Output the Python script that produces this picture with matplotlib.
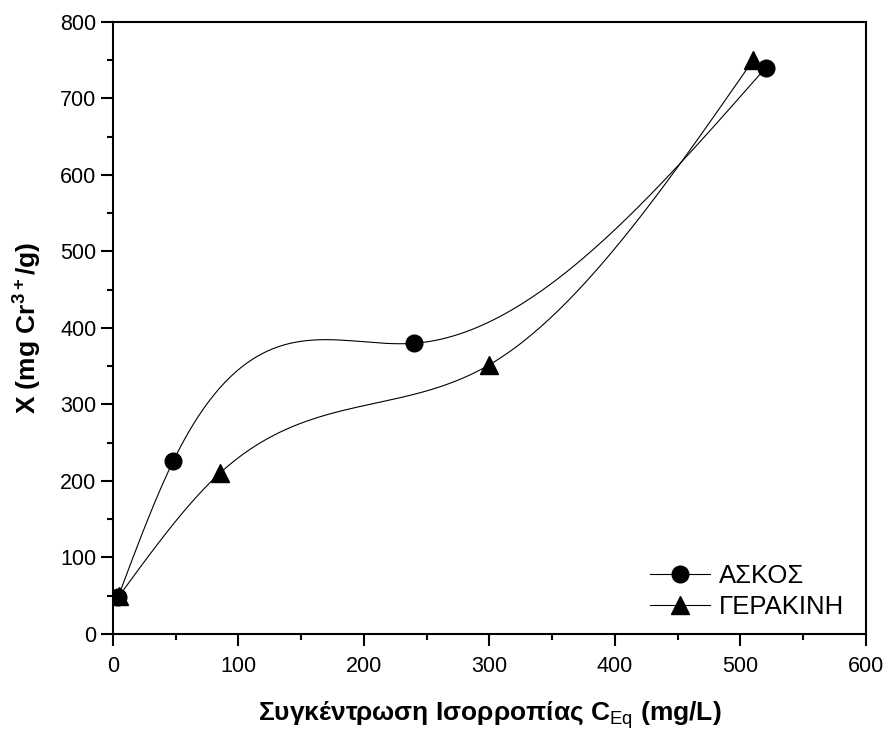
import numpy as np
from matplotlib import pyplot as plt
from matplotlib.ticker import MultipleLocator

askos_x = [4, 48, 240, 520]
askos_y = [48, 226, 380, 740]
gerakini_x = [5, 85, 300, 510]
gerakini_y = [50, 210, 352, 750]

x_ticks = [0, 100, 200, 300, 400, 500, 600]
y_ticks = [0, 100, 200, 300, 400, 500, 600, 700, 800]


def natural_spline(xs, ys, n=300):
    # plain natural cubic spline, like the "spline" line of the original program
    xs = np.asarray(xs, float)
    ys = np.asarray(ys, float)
    k = len(xs)
    h = np.diff(xs)
    a = np.zeros((k, k))
    b = np.zeros(k)
    a[0, 0] = 1
    a[-1, -1] = 1
    for i in range(1, k - 1):
        a[i, i - 1] = h[i - 1]
        a[i, i] = 2 * (h[i - 1] + h[i])
        a[i, i + 1] = h[i]
        b[i] = 6 * ((ys[i + 1] - ys[i]) / h[i] - (ys[i] - ys[i - 1]) / h[i - 1])
    m = np.linalg.solve(a, b)
    xx = np.linspace(xs[0], xs[-1], n)
    yy = np.zeros_like(xx)
    for j, x in enumerate(xx):
        i = min(np.searchsorted(xs, x, side="right") - 1, k - 2)
        t = x - xs[i]
        u = xs[i + 1] - x
        yy[j] = (m[i] * u ** 3 + m[i + 1] * t ** 3) / (6 * h[i]) \
            + (ys[i] / h[i] - m[i] * h[i] / 6) * u \
            + (ys[i + 1] / h[i] - m[i + 1] * h[i] / 6) * t
    return xx, yy


plt.rcParams['font.family'] = ['Liberation Sans', 'DejaVu Sans']
plt.rcParams['mathtext.fontset'] = 'custom'
plt.rcParams['mathtext.rm'] = 'Liberation Sans'
plt.rcParams['mathtext.bf'] = 'Liberation Sans:bold'

fig = plt.figure(figsize=(8.87, 7.32), dpi=100)
ax = fig.add_axes([0.1274, 0.1339, 0.8489, 0.8361])

sx, sy = natural_spline(askos_x, askos_y)
ax.plot(sx, sy, color='black', linewidth=0.8)
ax.plot(askos_x, askos_y, 'o', color='black', markersize=12, zorder=3)

gx, gy = natural_spline(gerakini_x, gerakini_y)
ax.plot(gx, gy, color='black', linewidth=0.8)
ax.plot(gerakini_x, gerakini_y, '^', color='black', markersize=13, zorder=4)

# legend handles: line with marker in the middle
h1, = ax.plot([], [], '-o', color='black', linewidth=0.8, markersize=12)
h2, = ax.plot([], [], '-^', color='black', linewidth=0.8, markersize=13)
ax.legend([h1, h2], ['ΑΣΚΟΣ', 'ΓΕΡΑΚΙΝΗ'], loc='lower right', frameon=False,
          fontsize=18.5, handlelength=2.33, handletextpad=0.35, labelspacing=0.27,
          borderaxespad=0.2, bbox_to_anchor=(0.992, 0.0))

ax.set_xlim(0, 600)
ax.set_ylim(0, 800)
ax.set_xticks(x_ticks)
ax.set_yticks(y_ticks)
ax.xaxis.set_minor_locator(MultipleLocator(50))
ax.yaxis.set_minor_locator(MultipleLocator(50))
ax.tick_params(which='major', direction='out', length=8.5, width=1.5, labelsize=15.5)
ax.tick_params(which='minor', direction='out', length=4.5, width=1.5)
ax.tick_params(axis='x', which='major', pad=7)
for s in ax.spines.values():
    s.set_linewidth(1.5)

ax.set_xlabel(r'Συγκέντρωση Ισορροπίας C$_{\mathrm{Eq}}$ (mg/L)',
              fontsize=19, fontweight='bold', labelpad=16)
ax.set_ylabel(r'X (mg Cr$^{\mathbf{3+}}$/g)', fontsize=19, fontweight='bold',
              labelpad=12)

fig.savefig('out.png', dpi=100)
